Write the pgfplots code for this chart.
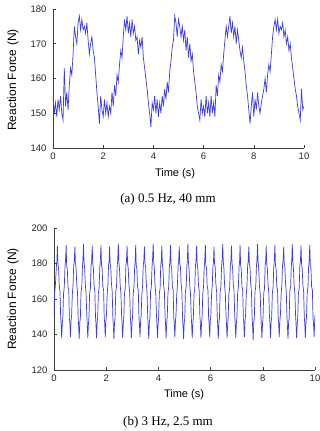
\documentclass[border=0pt]{standalone}
\usepackage{pgfplots}
\pgfplotsset{compat=1.18}
\usepackage{fontspec}
\setmainfont{Liberation Serif}
\newfontfamily\arial{Liberation Sans}

\definecolor{trace}{RGB}{60,60,232}
\definecolor{axcol}{RGB}{60,60,60}

\pgfplotsset{
  forceaxis/.style={
    scale only axis,
    axis lines=left,
    axis line style={-, axcol, line width=0.6pt},
    tick style={axcol, line width=0.6pt},
    tick align=inside,
    major tick length=3pt,
    tick label style={font=\arial\fontsize{9.5}{10}\selectfont, text=black!85},
    /pgf/number format/assume math mode=true,
    xmin=0, xmax=10,
    xtick={0,2,4,6,8,10},
    xticklabel style={yshift=-1pt},
    yticklabel style={xshift=-3pt},
    clip=true,
  },
}

\begin{document}
\begin{tikzpicture}
\useasboundingbox (0pt,0pt) rectangle (320pt,431pt);

% ---------- (a) 0.5 Hz, 40 mm ----------
\begin{axis}[forceaxis,
  at={(53pt,283pt)}, anchor=south west,
  width=251pt, height=139pt,
  ymin=140, ymax=180, ytick={140,150,160,170,180}]
\addplot[trace, line width=0.7pt] coordinates {
(0.00,155) (0.05,150) (0.10,153) (0.15,149) (0.20,154) (0.25,151) (0.30,155) (0.35,150)
(0.40,148) (0.45,163) (0.50,152) (0.55,156) (0.60,151) (0.65,158) (0.70,163) (0.75,161)
(0.80,167) (0.85,175) (0.90,172) (0.95,170) (1.00,176) (1.05,178) (1.10,174) (1.15,177)
(1.20,174) (1.25,175) (1.30,173) (1.35,176) (1.40,171) (1.45,167) (1.50,170) (1.55,172)
(1.60,168) (1.65,166) (1.70,161) (1.75,156) (1.80,152) (1.85,147) (1.90,155) (1.95,151)
(2.00,149) (2.05,154) (2.10,150) (2.15,153) (2.20,149) (2.25,152) (2.30,150) (2.35,156)
(2.40,152) (2.45,158) (2.50,155) (2.55,161) (2.60,159) (2.65,164) (2.70,168) (2.75,166)
(2.80,172) (2.85,177) (2.90,174) (2.95,178) (3.00,173) (3.05,176) (3.10,172) (3.15,177)
(3.20,173) (3.25,175) (3.30,171) (3.35,172) (3.40,167) (3.45,171) (3.50,169) (3.55,172)
(3.60,166) (3.65,163) (3.70,160) (3.75,157) (3.80,153) (3.85,150) (3.90,146) (3.95,153)
(4.00,151) (4.05,155) (4.10,150) (4.15,154) (4.20,149) (4.25,153) (4.30,150) (4.35,155)
(4.40,152) (4.45,157) (4.50,154) (4.55,159) (4.60,156) (4.65,162) (4.70,165) (4.75,169)
(4.80,171) (4.85,178) (4.90,176) (4.95,172) (5.00,177) (5.05,175) (5.10,172) (5.15,175)
(5.20,171) (5.25,174) (5.30,168) (5.35,172) (5.40,166) (5.45,170) (5.50,165) (5.55,167)
(5.60,162) (5.65,159) (5.70,156) (5.75,152) (5.80,150) (5.85,148) (5.90,154) (5.95,150)
(6.00,152) (6.05,149) (6.10,155) (6.15,150) (6.20,153) (6.25,149) (6.30,155) (6.35,150)
(6.40,153) (6.45,149) (6.50,158) (6.55,155) (6.60,161) (6.65,159) (6.70,164) (6.75,162)
(6.80,167) (6.85,171) (6.90,175) (6.95,172) (7.00,175) (7.05,178) (7.10,173) (7.15,176)
(7.20,172) (7.25,175) (7.30,170) (7.35,174) (7.40,171) (7.45,168) (7.50,166) (7.55,169)
(7.60,165) (7.65,162) (7.70,158) (7.75,155) (7.80,151) (7.85,147) (7.90,152) (7.95,156)
(8.00,149) (8.05,154) (8.10,151) (8.15,156) (8.20,152) (8.25,150) (8.30,153) (8.35,155)
(8.40,157) (8.45,160) (8.50,156) (8.55,161) (8.60,164) (8.65,162) (8.70,167) (8.75,172)
(8.80,175) (8.85,177) (8.90,174) (8.95,177) (9.00,173) (9.05,175) (9.10,174) (9.15,176)
(9.20,172) (9.25,174) (9.30,170) (9.35,172) (9.40,168) (9.45,170) (9.50,166) (9.55,163)
(9.60,160) (9.65,157) (9.70,155) (9.75,152) (9.80,150) (9.85,148) (9.90,157) (9.95,151)
(10.00,152)
};
\end{axis}
\node[rotate=90, font=\arial\fontsize{12}{13}\selectfont] at (13pt,351pt) {Reaction Force (N)};
\node[font=\arial\fontsize{11}{12}\selectfont] at (175pt,257pt) {Time (s)};
\node[font=\fontsize{13}{14}\selectfont] at (168pt,232pt) {(a) 0.5 Hz, 40 mm};

% ---------- (b) 3 Hz, 2.5 mm ----------
\begin{axis}[forceaxis,
  at={(54pt,61pt)}, anchor=south west,
  width=261pt, height=142pt,
  ymin=120, ymax=200, ytick={120,140,160,180,200}]
\addplot[trace, line width=0.7pt] coordinates {
(0.00,151) (0.02,163) (0.05,167) (0.09,178) (0.11,181)
(0.13,190) (0.15,180) (0.175,177) (0.20,168) (0.23,164) (0.255,150) (0.27,147) (0.295,138) (0.32,147) (0.34,150) (0.365,163) (0.395,167) (0.42,178) (0.44,181)
(0.465,190.5) (0.485,179) (0.51,177) (0.535,167) (0.565,165) (0.59,149) (0.605,147) (0.63,138.5) (0.655,148) (0.675,151) (0.70,162) (0.73,168) (0.755,179) (0.775,181)
(0.80,189.5) (0.82,180) (0.845,178) (0.87,169) (0.90,164) (0.925,150) (0.94,146) (0.965,137.5) (0.99,147) (1.01,149) (1.035,164) (1.065,167) (1.09,178) (1.11,182)
(1.13,191) (1.15,181) (1.175,177) (1.20,168) (1.23,163) (1.255,151) (1.27,147) (1.295,138) (1.32,146) (1.34,150) (1.365,163) (1.395,166) (1.42,179) (1.44,181)
(1.465,190) (1.485,180) (1.51,177) (1.535,168) (1.565,164) (1.59,150) (1.605,147) (1.63,138) (1.655,147) (1.675,150) (1.70,163) (1.73,167) (1.755,178) (1.775,181)
(1.80,190.5) (1.82,179) (1.845,177) (1.87,167) (1.90,165) (1.925,149) (1.94,147) (1.965,138.5) (1.99,148) (2.01,151) (2.035,162) (2.065,168) (2.09,179) (2.11,181)
(2.13,189.5) (2.15,180) (2.175,178) (2.20,169) (2.23,164) (2.255,150) (2.27,146) (2.295,137.5) (2.32,147) (2.34,149) (2.365,164) (2.395,167) (2.42,178) (2.44,182)
(2.465,191) (2.485,181) (2.51,177) (2.535,168) (2.565,163) (2.59,151) (2.605,147) (2.63,138) (2.655,146) (2.675,150) (2.70,163) (2.73,166) (2.755,179) (2.775,181)
(2.80,190) (2.82,180) (2.845,177) (2.87,168) (2.90,164) (2.925,150) (2.94,147) (2.965,138) (2.99,147) (3.01,150) (3.035,163) (3.065,167) (3.09,178) (3.11,181)
(3.13,190.5) (3.15,179) (3.175,177) (3.20,167) (3.23,165) (3.255,149) (3.27,147) (3.295,138.5) (3.32,148) (3.34,151) (3.365,162) (3.395,168) (3.42,179) (3.44,181)
(3.465,189.5) (3.485,180) (3.51,178) (3.535,169) (3.565,164) (3.59,150) (3.605,146) (3.63,137.5) (3.655,147) (3.675,149) (3.70,164) (3.73,167) (3.755,178) (3.775,182)
(3.80,191) (3.82,181) (3.845,177) (3.87,168) (3.90,163) (3.925,151) (3.94,147) (3.965,138) (3.99,146) (4.01,150) (4.035,163) (4.065,166) (4.09,179) (4.11,181)
(4.13,190) (4.15,180) (4.175,177) (4.20,168) (4.23,164) (4.255,150) (4.27,147) (4.295,138) (4.32,147) (4.34,150) (4.365,163) (4.395,167) (4.42,178) (4.44,181)
(4.465,190.5) (4.485,179) (4.51,177) (4.535,167) (4.565,165) (4.59,149) (4.605,147) (4.63,138.5) (4.655,148) (4.675,151) (4.70,162) (4.73,168) (4.755,179) (4.775,181)
(4.80,189.5) (4.82,180) (4.845,178) (4.87,169) (4.90,164) (4.925,150) (4.94,146) (4.965,137.5) (4.99,147) (5.01,149) (5.035,164) (5.065,167) (5.09,178) (5.11,182)
(5.13,191) (5.15,181) (5.175,177) (5.20,168) (5.23,163) (5.255,151) (5.27,147) (5.295,138) (5.32,146) (5.34,150) (5.365,163) (5.395,166) (5.42,179) (5.44,181)
(5.465,190) (5.485,180) (5.51,177) (5.535,168) (5.565,164) (5.59,150) (5.605,147) (5.63,138) (5.655,147) (5.675,150) (5.70,163) (5.73,167) (5.755,178) (5.775,181)
(5.80,190.5) (5.82,179) (5.845,177) (5.87,167) (5.90,165) (5.925,149) (5.94,147) (5.965,138.5) (5.99,148) (6.01,151) (6.035,162) (6.065,168) (6.09,179) (6.11,181)
(6.13,189.5) (6.15,180) (6.175,178) (6.20,169) (6.23,164) (6.255,150) (6.27,146) (6.295,137.5) (6.32,147) (6.34,149) (6.365,164) (6.395,167) (6.42,178) (6.44,182)
(6.465,191) (6.485,181) (6.51,177) (6.535,168) (6.565,163) (6.59,151) (6.605,147) (6.63,138) (6.655,146) (6.675,150) (6.70,163) (6.73,166) (6.755,179) (6.775,181)
(6.80,190) (6.82,180) (6.845,177) (6.87,168) (6.90,164) (6.925,150) (6.94,147) (6.965,138) (6.99,147) (7.01,150) (7.035,163) (7.065,167) (7.09,178) (7.11,181)
(7.13,190.5) (7.15,179) (7.175,177) (7.20,167) (7.23,165) (7.255,149) (7.27,147) (7.295,138.5) (7.32,148) (7.34,151) (7.365,162) (7.395,168) (7.42,179) (7.44,181)
(7.465,189.5) (7.485,180) (7.51,178) (7.535,169) (7.565,164) (7.59,150) (7.605,146) (7.63,137) (7.655,147) (7.675,149) (7.70,164) (7.73,167) (7.755,178) (7.775,182)
(7.80,191) (7.82,181) (7.845,177) (7.87,168) (7.90,163) (7.925,151) (7.94,147) (7.965,138) (7.99,146) (8.01,150) (8.035,163) (8.065,166) (8.09,179) (8.11,181)
(8.13,190) (8.15,180) (8.175,177) (8.20,168) (8.23,164) (8.255,150) (8.27,147) (8.295,138) (8.32,147) (8.34,150) (8.365,163) (8.395,167) (8.42,178) (8.44,181)
(8.465,190.5) (8.485,179) (8.51,177) (8.535,167) (8.565,165) (8.59,149) (8.605,147) (8.63,138.5) (8.655,148) (8.675,151) (8.70,162) (8.73,168) (8.755,179) (8.775,181)
(8.80,189.5) (8.82,180) (8.845,178) (8.87,169) (8.90,164) (8.925,150) (8.94,146) (8.965,137.5) (8.99,147) (9.01,149) (9.035,164) (9.065,167) (9.09,178) (9.11,182)
(9.13,191) (9.15,181) (9.175,177) (9.20,168) (9.23,163) (9.255,151) (9.27,147) (9.295,138) (9.32,146) (9.34,150) (9.365,163) (9.395,166) (9.42,179) (9.44,181)
(9.465,190) (9.485,180) (9.51,177) (9.535,168) (9.565,164) (9.59,150) (9.605,147) (9.63,138) (9.655,147) (9.675,150) (9.70,163) (9.73,167) (9.755,178) (9.775,181)
(9.80,190.5) (9.82,179) (9.845,177) (9.87,167) (9.90,165) (9.925,149) (9.94,147) (9.965,138.5) (9.99,148) (10.00,151)
};
\end{axis}
\node[rotate=90, font=\arial\fontsize{12}{13}\selectfont] at (13pt,132pt) {Reaction Force (N)};
\node[font=\arial\fontsize{11}{12}\selectfont] at (184pt,36pt) {Time (s)};
\node[font=\fontsize{13}{14}\selectfont] at (168pt,9pt) {(b) 3 Hz, 2.5 mm};
\end{tikzpicture}
\end{document}
